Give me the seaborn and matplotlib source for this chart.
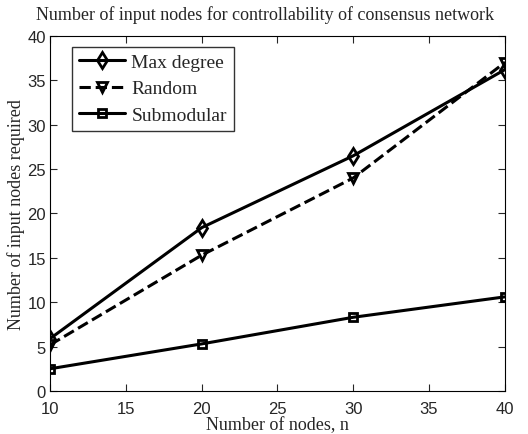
import matplotlib
matplotlib.use('Agg')
import matplotlib.pyplot as plt
import seaborn as sns
import pandas as pd

# Data
n_nodes = [10, 20, 30, 40]
max_degree = [5.9, 18.4, 26.5, 36.2]
random_sel = [5.2, 15.3, 24.0, 37.0]
submodular = [2.5, 5.3, 8.3, 10.6]

df = pd.DataFrame({
    'n': n_nodes * 3,
    'value': max_degree + random_sel + submodular,
    'method': ['Max degree'] * 4 + ['Random'] * 4 + ['Submodular'] * 4,
})

sns.set_style('white')
plt.rcParams['font.family'] = ['Liberation Serif', 'DejaVu Serif']

fig = plt.figure(figsize=(5.28, 4.35), dpi=100)
ax = fig.add_axes([0.095, 0.099, 0.861, 0.816])

styles = {'Max degree': ('-', 'd', 8), 'Random': ('--', 'v', 7.5), 'Submodular': ('-', 's', 6)}
for name, (ls, mk, ms) in styles.items():
    sub = df[df['method'] == name]
    sns.lineplot(data=sub, x='n', y='value', ax=ax, color='black', linestyle=ls,
                 marker=mk, markersize=ms, markerfacecolor='none',
                 markeredgecolor='black', markeredgewidth=2.0, linewidth=2.2,
                 label=name)

ax.set_xlim(10, 40)
ax.set_ylim(0, 40)
ax.set_xticks([10, 15, 20, 25, 30, 35, 40])
ax.set_yticks(range(0, 41, 5))
for lab in ax.get_xticklabels() + ax.get_yticklabels():
    lab.set_family(['Liberation Sans', 'DejaVu Sans'])
    lab.set_fontsize(12)
ax.tick_params(direction='in', length=5, width=0.8, top=True, right=True,
               bottom=True, left=True)
ax.tick_params(axis='x', pad=7)
ax.tick_params(axis='y', pad=3)
for sp in ax.spines.values():
    sp.set_color('black')
    sp.set_linewidth(0.8)

ax.set_title('Number of input nodes for controllability of consensus network',
             fontsize=13, pad=12, x=0.472)
ax.set_xlabel('Number of nodes, n', fontsize=13, labelpad=0)
ax.set_ylabel('Number of input nodes required', fontsize=13, labelpad=2)

leg = ax.legend(loc='upper left', fontsize=14, frameon=True, fancybox=False,
                edgecolor='black', handlelength=2.4, borderpad=0.35,
                labelspacing=0.45, handletextpad=0.3, borderaxespad=0,
                bbox_to_anchor=(0.048, 0.97))
leg.get_frame().set_linewidth(1.0)

fig.savefig('out.png', dpi=100)
